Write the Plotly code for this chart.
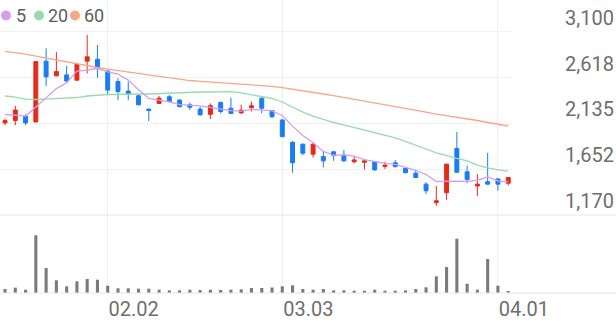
import plotly.graph_objects as go

dates = ["01.19","01.20","01.21","01.22","01.23","01.26","01.27","01.28","01.29","01.30",
         "02.02","02.03","02.04","02.05","02.06","02.09","02.10","02.11","02.12","02.13",
         "02.19","02.20","02.23","02.24","02.25","02.26","02.27","03.03","03.04","03.05",
         "03.06","03.09","03.10","03.11","03.12","03.13","03.16","03.17","03.18","03.19",
         "03.20","03.23","03.24","03.25","03.26","03.27","03.30","03.31","04.01","04.02"]

open_ = [2140, 2165, 2210, 2150, 2790, 2635, 2645, 2590, 2790, 2810, 2685, 2575, 2475, 2425, 2285,
         2345, 2415, 2380, 2330, 2285, 2230, 2355, 2295, 2245, 2300, 2400, 2270, 2170, 1935, 1915,
         1810, 1785, 1835, 1800, 1730, 1725, 1730, 1680, 1720, 1660, 1610, 1495, 1300, 1405, 1870,
         1625, 1475, 1520, 1550, 1505]
high = [2185, 2320, 2230, 2790, 2925, 2885, 2740, 2775, 3065, 2960, 2695, 2610, 2575, 2440, 2290,
        2425, 2435, 2390, 2355, 2310, 2345, 2365, 2405, 2330, 2365, 2410, 2275, 2180, 1950, 1925,
        1935, 1835, 1845, 1855, 1785, 1740, 1740, 1730, 1750, 1670, 1645, 1515, 1475, 1710, 2045,
        1690, 1600, 1825, 1555, 1570]
low = [2115, 2115, 2115, 2145, 2530, 2630, 2575, 2585, 2660, 2615, 2440, 2380, 2380, 2325, 2160,
       2340, 2355, 2305, 2275, 2215, 2180, 2240, 2235, 2235, 2260, 2240, 2190, 1990, 1615, 1800,
       1775, 1670, 1740, 1730, 1715, 1650, 1635, 1655, 1670, 1610, 1560, 1390, 1265, 1330, 1615,
       1505, 1370, 1490, 1425, 1480]
close = [2165, 2275, 2140, 2785, 2625, 2680, 2580, 2755, 2835, 2720, 2485, 2470, 2445, 2330, 2270,
         2400, 2365, 2310, 2305, 2225, 2320, 2260, 2240, 2275, 2320, 2295, 2205, 1995, 1720, 1820,
         1915, 1740, 1795, 1740, 1750, 1740, 1645, 1695, 1680, 1615, 1565, 1425, 1320, 1705, 1620,
         1545, 1495, 1495, 1495, 1565]
volume = [400000, 530000, 330000, 5770000, 2500000, 1270000, 670000, 1170000, 1400000, 1330000,
          730000, 470000, 470000, 430000, 430000, 330000, 270000, 270000, 330000, 300000,
          330000, 300000, 330000, 370000, 500000, 500000, 550000, 670000, 770000, 400000,
          330000, 400000, 270000, 270000, 230000, 230000, 330000, 230000, 230000, 270000,
          400000, 570000, 1670000, 2600000, 5430000, 930000, 330000, 3400000, 730000, 170000]
ma5 = [2228, 2223, 2212, 2307, 2399, 2501, 2562, 2685, 2696, 2715, 2676, 2654, 2590, 2489, 2399,
       2382, 2361, 2333, 2329, 2320, 2304, 2283, 2268, 2263, 2282, 2277, 2266, 2218, 2106, 2007,
       1931, 1839, 1799, 1803, 1789, 1753, 1733, 1714, 1702, 1674, 1641, 1596, 1522, 1527, 1527,
       1523, 1536, 1571, 1530, 1519]
ma20 = [2423, 2412, 2391, 2386, 2391, 2397, 2402, 2407, 2423, 2433, 2439, 2439, 2444, 2444, 2444,
        2449, 2455, 2460, 2462, 2465, 2465, 2468, 2470, 2455, 2433, 2418, 2397, 2360, 2307, 2254,
        2212, 2175, 2144, 2118, 2091, 2065, 2039, 2012, 1981, 1944, 1907, 1865, 1823, 1791, 1765,
        1739, 1696, 1665, 1644, 1633]
ma60 = [2892, 2881, 2865, 2844, 2823, 2802, 2786, 2765, 2744, 2723, 2707, 2691, 2676, 2660, 2644,
        2628, 2612, 2597, 2586, 2578, 2570, 2562, 2557, 2551, 2544, 2536, 2525, 2512, 2493, 2476,
        2460, 2444, 2428, 2409, 2391, 2373, 2354, 2336, 2318, 2297, 2276, 2254, 2233, 2218, 2202,
        2183, 2165, 2144, 2125, 2107]

price_ticks = [1170, 1652.5, 2135, 2617.5, 3100]
price_labels = ["1,170", "1,652", "2,135", "2,618", "3,100"]
x_ticks = ["02.02", "03.03", "04.01"]
legend_items = [("5", "#d59df0"), ("20", "#95dca8"), ("60", "#f9a685")]

RED = "#e42b1a"
BLUE = "#1a7cf2"
W, H = 616, 321
ML, MR, MT, MB = 0, 104, 0, 28
PW, PH = W - ML - MR, H - MT - MB
split = 78 / PH

fig = go.Figure()
fig.add_trace(go.Scatter(x=dates, y=ma60, mode="lines", line=dict(color=legend_items[2][1], width=1.3),
                         xaxis="x", yaxis="y", hoverinfo="skip"))
fig.add_trace(go.Scatter(x=dates, y=ma20, mode="lines", line=dict(color=legend_items[1][1], width=1.3),
                         xaxis="x", yaxis="y", hoverinfo="skip"))
fig.add_trace(go.Scatter(x=dates, y=ma5, mode="lines", line=dict(color=legend_items[0][1], width=1.3),
                         xaxis="x", yaxis="y", hoverinfo="skip"))
fig.add_trace(go.Candlestick(x=dates, open=open_, high=high, low=low, close=close,
                             increasing=dict(line=dict(color=RED, width=1), fillcolor=RED),
                             decreasing=dict(line=dict(color=BLUE, width=1), fillcolor=BLUE),
                             whiskerwidth=0, xaxis="x", yaxis="y"))
fig.add_trace(go.Bar(x=dates, y=volume, marker=dict(color="#7a7a7a", line=dict(width=0)),
                     width=0.3, xaxis="x", yaxis="y2"))

shapes = []
for yp in [split, 0]:
    shapes.append(dict(type="line", xref="paper", yref="paper", x0=0, x1=W / PW, y0=yp, y1=yp,
                       line=dict(color="#e6e6e6", width=1)))
annotations = []
lx = [6, 39, 75]
tx = [15, 47, 83]
for (lab, col), cx, t in zip(legend_items, lx, tx):
    shapes.append(dict(type="circle", xref="paper", yref="paper", xsizemode="pixel", ysizemode="pixel",
                       xanchor=cx / PW, yanchor=1 - 15.5 / PH, x0=-5, x1=5, y0=-5, y1=5,
                       fillcolor=col, line=dict(width=0)))
    annotations.append(dict(text=lab, xref="paper", yref="paper", x=t / PW, y=1 - 15.5 / PH,
                            xanchor="left", yanchor="middle", showarrow=False, borderpad=0,
                            font=dict(family="Roboto", size=18, color="#5e5e5e")))

fig.update_layout(
    width=W, height=H, margin=dict(l=ML, r=MR, t=MT, b=MB),
    paper_bgcolor="white", plot_bgcolor="white", showlegend=False,
    boxgap=0.45,
    xaxis=dict(type="category", range=[-0.49, 49.37], anchor="y2", rangeslider=dict(visible=False),
               tickvals=x_ticks, ticktext=x_ticks, showgrid=True, gridcolor="#efefef", gridwidth=1,
               ticks="", showline=False, zeroline=False, ticklabelshift=26, ticklabelstandoff=2,
               tickfont=dict(family="Roboto", size=20, color="#6e6e6e")),
    yaxis=dict(domain=[split, 1], range=[1170, 3433.8], side="right", tickvals=price_ticks,
               ticktext=price_labels, showgrid=True, gridcolor="#f1f1f1", zeroline=False, ticks="",
               ticklabelshift=-14, ticklabelstandoff=52,
               tickfont=dict(family="Roboto", size=20, color="#6e6e6e")),
    yaxis2=dict(domain=[0, split], range=[0, 7800000], visible=False, showgrid=False),
    shapes=shapes, annotations=annotations,
)
fig.write_html("out.html")
